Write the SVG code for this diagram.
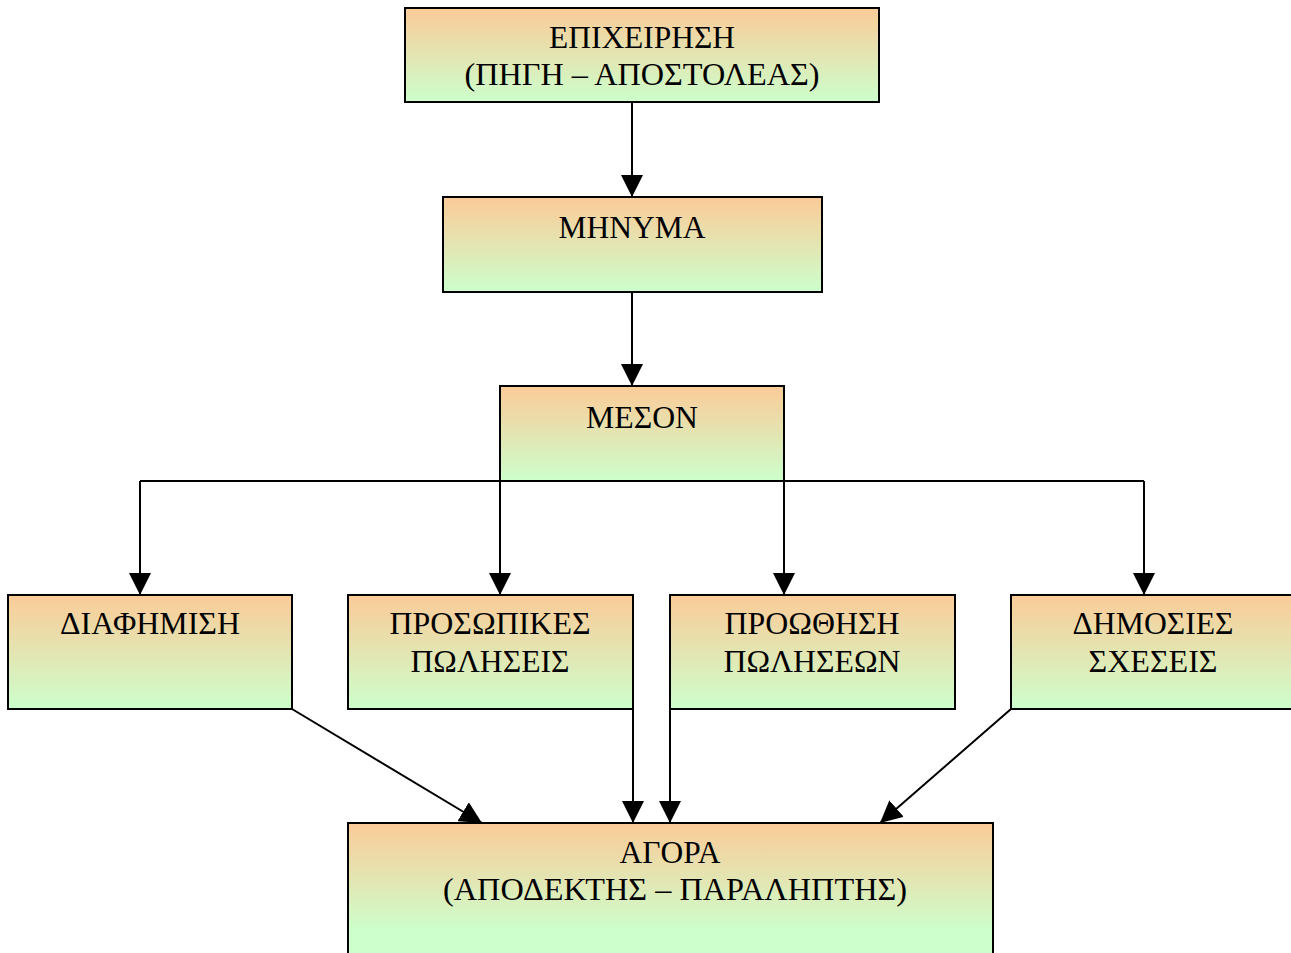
<svg xmlns="http://www.w3.org/2000/svg" width="1291" height="953" viewBox="0 0 1291 953">
<defs>
<linearGradient id="g" x1="0" y1="0" x2="0" y2="1">
<stop offset="0" stop-color="#FBCB98"/>
<stop offset="1" stop-color="#CCFFCC"/>
</linearGradient>
<linearGradient id="gb" x1="0" y1="0" x2="0" y2="1">
<stop offset="0" stop-color="#FBCB98"/>
<stop offset="0.78" stop-color="#CCFFCC"/>
<stop offset="1" stop-color="#CCFFCC"/>
</linearGradient>
<marker id="ah" markerUnits="userSpaceOnUse" markerWidth="22" markerHeight="22" viewBox="0 0 22 22" refX="22" refY="11" orient="auto">
<path d="M0,0 L22,11 L0,22 Z" fill="#000"/>
</marker>
</defs>
<style>
.box{fill:url(#g);stroke:#000;stroke-width:2}
.boxb{fill:url(#gb);stroke:#000;stroke-width:2}
text{font-family:"Liberation Serif","Times New Roman",serif;font-size:32px;fill:#000;text-anchor:middle}
.c{fill:none;stroke:#000;stroke-width:2}
</style>
<g id="connectors">
<line class="c" x1="632" y1="103" x2="632" y2="197" marker-end="url(#ah)"/>
<line class="c" x1="632" y1="292" x2="632" y2="386" marker-end="url(#ah)"/>
<line class="c" x1="140" y1="481" x2="1144" y2="481"/>
<line class="c" x1="140" y1="481" x2="140" y2="595" marker-end="url(#ah)"/>
<line class="c" x1="500" y1="481" x2="500" y2="595" marker-end="url(#ah)"/>
<line class="c" x1="784" y1="481" x2="784" y2="595" marker-end="url(#ah)"/>
<line class="c" x1="1144" y1="481" x2="1144" y2="595" marker-end="url(#ah)"/>
<line class="c" x1="292" y1="709" x2="482" y2="823" marker-end="url(#ah)"/>
<line class="c" x1="633" y1="709" x2="633" y2="823" marker-end="url(#ah)"/>
<line class="c" x1="670" y1="709" x2="670" y2="823" marker-end="url(#ah)"/>
<line class="c" x1="1011" y1="709" x2="880" y2="823" marker-end="url(#ah)"/>
</g>
<g id="n1">
<rect class="box" x="405" y="8" width="474" height="94"/>
<text x="642" y="48" textLength="186" lengthAdjust="spacingAndGlyphs">ΕΠΙΧΕΙΡΗΣΗ</text>
<text x="642" y="85" textLength="355" lengthAdjust="spacingAndGlyphs">(ΠΗΓΗ – ΑΠΟΣΤΟΛΕΑΣ)</text>
</g>
<g id="n2">
<rect class="box" x="443" y="197" width="379" height="95"/>
<text x="632" y="238" textLength="147" lengthAdjust="spacingAndGlyphs">ΜΗΝΥΜΑ</text>
</g>
<g id="n3">
<rect class="box" x="500" y="386" width="284" height="95"/>
<text x="642" y="428" textLength="112" lengthAdjust="spacingAndGlyphs">ΜΕΣΟΝ</text>
</g>
<g id="n4">
<rect class="box" x="8" y="595" width="284" height="114"/>
<text x="150" y="634" textLength="180" lengthAdjust="spacingAndGlyphs">ΔΙΑΦΗΜΙΣΗ</text>
</g>
<g id="n5">
<rect class="box" x="348" y="595" width="285" height="114"/>
<text x="490" y="634" textLength="201" lengthAdjust="spacingAndGlyphs">ΠΡΟΣΩΠΙΚΕΣ</text>
<text x="490" y="672" textLength="159" lengthAdjust="spacingAndGlyphs">ΠΩΛΗΣΕΙΣ</text>
</g>
<g id="n6">
<rect class="box" x="670" y="595" width="285" height="114"/>
<text x="812" y="634" textLength="175" lengthAdjust="spacingAndGlyphs">ΠΡΟΩΘΗΣΗ</text>
<text x="812" y="672" textLength="177" lengthAdjust="spacingAndGlyphs">ΠΩΛΗΣΕΩΝ</text>
</g>
<g id="n7">
<rect class="box" x="1011" y="595" width="285" height="114"/>
<text x="1153" y="634" textLength="161" lengthAdjust="spacingAndGlyphs">ΔΗΜΟΣΙΕΣ</text>
<text x="1153" y="672" textLength="129" lengthAdjust="spacingAndGlyphs">ΣΧΕΣΕΙΣ</text>
</g>
<g id="n8">
<rect class="boxb" x="348" y="823" width="645" height="140"/>
<text x="670" y="863" textLength="101" lengthAdjust="spacingAndGlyphs">ΑΓΟΡΑ</text>
<text x="675" y="900" textLength="464" lengthAdjust="spacingAndGlyphs">(ΑΠΟΔΕΚΤΗΣ – ΠΑΡΑΛΗΠΤΗΣ)</text>
</g>
</svg>
